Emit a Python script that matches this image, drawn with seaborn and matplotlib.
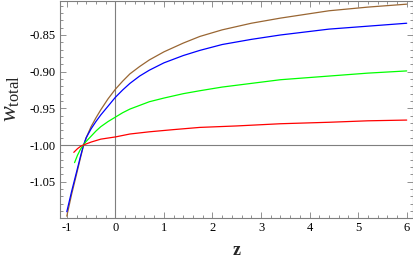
import numpy as np
import pandas as pd
import matplotlib
matplotlib.use("Agg")
import matplotlib.pyplot as plt
from matplotlib.ticker import MultipleLocator, FixedLocator, FormatStrFormatter
import seaborn as sns

# values (z, w_total)
brown_z = [-1.0, -0.9, -0.8, -0.72, -0.66, -0.6, -0.5, -0.4, -0.3, -0.15, 0.0, 0.15, 0.3, 0.5, 0.7, 1.0, 1.4, 1.74, 2.2, 2.8, 3.4, 4.4, 5.2, 6.0]
brown_w = [-1.097, -1.067, -1.040, -1.018, -1.002, -0.990, -0.975, -0.963, -0.952, -0.937, -0.924, -0.913, -0.903, -0.893, -0.884, -0.873, -0.861, -0.852, -0.843, -0.834, -0.827, -0.817, -0.812, -0.808]

blue_z = [-1.0, -0.9, -0.8, -0.72, -0.66, -0.6, -0.5, -0.4, -0.3, -0.15, 0.0, 0.15, 0.3, 0.5, 0.7, 1.0, 1.4, 1.74, 2.2, 2.8, 3.4, 4.4, 5.2, 6.0]
blue_w = [-1.091, -1.063, -1.037, -1.016, -1.001, -0.990, -0.978, -0.968, -0.959, -0.947, -0.935, -0.925, -0.916, -0.906, -0.898, -0.888, -0.878, -0.871, -0.863, -0.856, -0.850, -0.842, -0.838, -0.834]

green_z = [-0.84, -0.78, -0.72, -0.66, -0.6, -0.5, -0.4, -0.3, -0.15, 0.0, 0.15, 0.3, 0.5, 0.7, 1.0, 1.4, 1.74, 2.2, 2.8, 3.4, 4.4, 5.2, 6.0]
green_w = [-1.024, -1.014, -1.006, -1.000, -0.995, -0.988, -0.981, -0.975, -0.968, -0.962, -0.956, -0.951, -0.946, -0.941, -0.936, -0.930, -0.926, -0.921, -0.916, -0.911, -0.906, -0.902, -0.899]

red_z = [-0.856, -0.78, -0.72, -0.66, -0.5, -0.3, 0.0, 0.3, 0.7, 1.2, 1.74, 2.5, 3.4, 4.4, 5.2, 6.0]
red_w = [-1.010, -1.005, -1.002, -1.000, -0.996, -0.992, -0.989, -0.985, -0.982, -0.979, -0.976, -0.974, -0.971, -0.969, -0.967, -0.966]

x_ticks = [-1, 0, 1, 2, 3, 4, 5, 6]
y_ticks = [-1.05, -1.00, -0.95, -0.90, -0.85]

series = [
    (brown_z, brown_w, (0.6, 0.4, 0.2)),
    (blue_z, blue_w, (0.0, 0.0, 1.0)),
    (green_z, green_w, (0.0, 1.0, 0.0)),
    (red_z, red_w, (1.0, 0.0, 0.0)),
]


def main():
    sns.set_theme(style="ticks")
    plt.rcParams["font.family"] = ["Liberation Serif", "DejaVu Serif"]
    plt.rcParams["mathtext.fontset"] = "custom"
    plt.rcParams["mathtext.rm"] = "Liberation Serif"
    plt.rcParams["mathtext.it"] = "Liberation Serif:italic"

    fig = plt.figure(figsize=(4.14, 2.59), dpi=100)
    ax = fig.add_axes([60 / 414, 41 / 259, 353.5 / 414, 217.5 / 259])

    frame = "#7f7f7f"
    # axes through the origin (Mathematica style)
    ax.axvline(0, color=frame, lw=0.8, zorder=1)
    ax.axhline(-1.0, color=frame, lw=0.8, zorder=1)

    for z, w, col in series:
        df = pd.DataFrame({"z": z, "w": w})
        sns.lineplot(data=df, x="z", y="w", color=col, lw=0.9, ax=ax, sort=False, zorder=3)

    ax.set_xlim(-1.14, 6.14)
    ax.set_ylim(-1.0995, -0.803)

    ax.xaxis.set_major_locator(FixedLocator(x_ticks))
    ax.xaxis.set_minor_locator(MultipleLocator(0.2))
    ax.yaxis.set_major_locator(FixedLocator(y_ticks))
    ax.yaxis.set_minor_locator(MultipleLocator(0.01))
    ax.yaxis.set_major_formatter(FormatStrFormatter("%.2f"))
    ax.xaxis.set_major_formatter(FormatStrFormatter("%d"))

    ax.tick_params(which="both", direction="in", top=True, right=True, color=frame,
                   labelsize=9, labelcolor="black", width=0.6)
    ax.tick_params(which="major", length=4, pad=3)
    ax.tick_params(which="minor", length=2)
    for s in ax.spines.values():
        s.set_color(frame)
        s.set_linewidth(0.8)

    ax.set_xlabel("z", fontsize=13, fontweight="bold")
    ax.xaxis.set_label_coords(0.5, -0.11)
    ax.set_ylabel(r"$w_{\mathrm{total}}$", fontsize=17)
    ax.yaxis.set_label_coords(-0.108, 0.55)

    fig.savefig("out.png", dpi=100)


if __name__ == "__main__":
    main()
